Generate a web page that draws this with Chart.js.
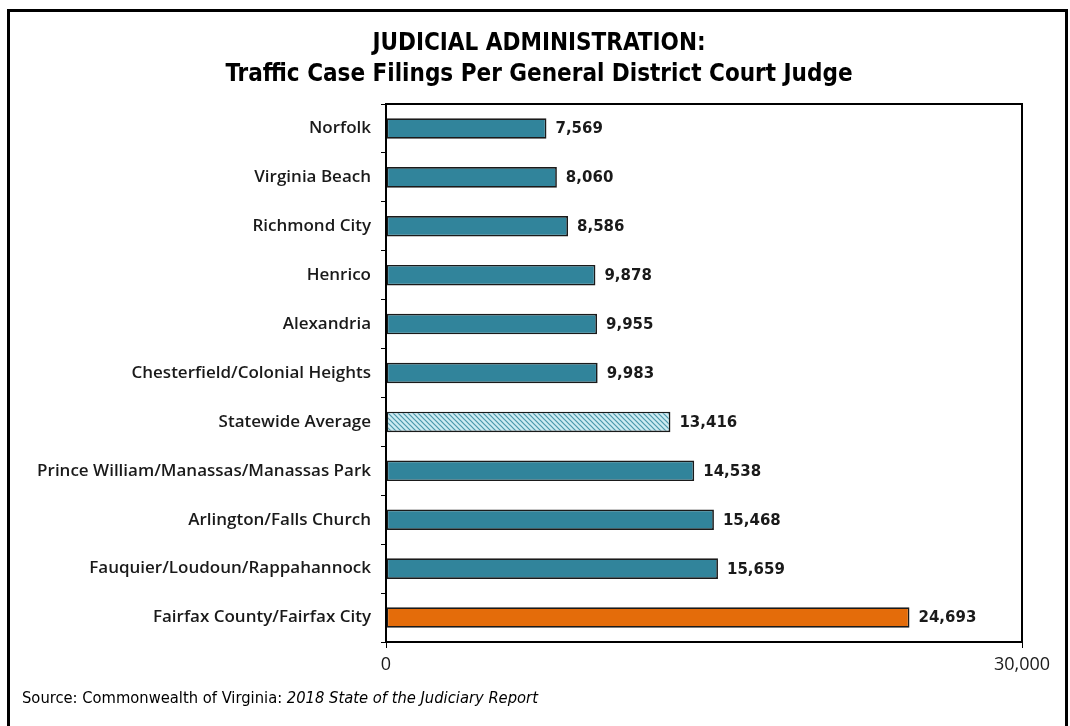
<!DOCTYPE html>
<html>
<head>
<meta charset="utf-8">
<script src="https://cdn.jsdelivr.net/npm/chart.js@4.4.0/dist/chart.umd.min.js"></script>
<style>
  html, body { margin: 0; padding: 0; background: #fff; }
  #wrap { position: relative; width: 1070px; height: 726px; overflow: hidden; }
  #frame { position: absolute; left: 7px; top: 9px; width: 1061px; height: 740px; border: 3px solid #000; box-sizing: border-box; }
  canvas { position: absolute; left: 0; top: 0; }
</style>
</head>
<body>
<div id="wrap">
  <div id="frame"></div>
  <canvas id="chart" width="1070" height="726"></canvas>
</div>
<script>
const categories = [
  'Norfolk',
  'Virginia Beach',
  'Richmond City',
  'Henrico',
  'Alexandria',
  'Chesterfield/Colonial Heights',
  'Statewide Average',
  'Prince William/Manassas/Manassas Park',
  'Arlington/Falls Church',
  'Fauquier/Loudoun/Rappahannock',
  'Fairfax County/Fairfax City'
];
const filings = [7569, 8060, 8586, 9878, 9955, 9983, 13416, 14538, 15468, 15659, 24693];
const titleLines = ['JUDICIAL ADMINISTRATION:', 'Traffic Case Filings Per General District Court Judge'];
const axisMax = 30000;

const teal = '#31849B';
const orange = '#E46C0A';
const condensed = '"Liberation Sans Narrow", "DejaVu Sans Condensed", sans-serif';

// hatched fill for the statewide average bar
function hatch() {
  const c = document.createElement('canvas');
  c.width = 5; c.height = 5;
  const g = c.getContext('2d');
  g.fillStyle = '#cdebf2';
  g.fillRect(0, 0, 5, 5);
  g.strokeStyle = '#4a97ab';
  g.lineWidth = 1.2;
  g.beginPath();
  g.moveTo(-1, -1); g.lineTo(6, 6);
  g.moveTo(-1, 4); g.lineTo(1, 6);
  g.moveTo(4, -1); g.lineTo(6, 1);
  g.stroke();
  return document.getElementById('chart').getContext('2d').createPattern(c, 'repeat');
}

const fills = categories.map(c => {
  if (c === 'Statewide Average') return hatch();
  if (c.startsWith('Fairfax')) return orange;
  return teal;
});

const extras = {
  id: 'extras',
  afterDraw(chart) {
    const { ctx, chartArea: a } = chart;
    ctx.save();
    // box round plot
    ctx.strokeStyle = '#000';
    ctx.lineWidth = 2;
    ctx.strokeRect(a.left, a.top, a.right - a.left, a.bottom - a.top);

    // value labels
    ctx.fillStyle = '#1a1a1a';
    ctx.font = 'bold 15px "DejaVu Sans", sans-serif';
    ctx.textBaseline = 'middle';
    ctx.textAlign = 'left';
    chart.getDatasetMeta(0).data.forEach((bar, i) => {
      ctx.fillText(filings[i].toLocaleString('en-US'), bar.x + 9, bar.y + 1);
    });

    // title
    ctx.textAlign = 'center';
    ctx.textBaseline = 'alphabetic';
    ctx.fillStyle = '#000';
    ctx.font = 'bold 24px ' + condensed;
    ctx.fillText(titleLines[0], 539, 50);
    ctx.fillText(titleLines[1], 539, 81);

    // source
    ctx.textAlign = 'left';
    ctx.font = '16.4px ' + condensed;
    const src = 'Source: Commonwealth of Virginia: ';
    ctx.fillText(src, 22, 703);
    const w = ctx.measureText(src).width;
    ctx.font = 'italic 16.4px ' + condensed;
    ctx.fillText('2018 State of the Judiciary Report', 22 + w, 703);
    ctx.restore();
  }
};

new Chart(document.getElementById('chart'), {
  type: 'bar',
  data: {
    labels: categories,
    datasets: [{
      data: filings,
      backgroundColor: fills,
      borderColor: '#1a1a1a',
      borderWidth: 1.7,
      borderSkipped: false,
      barPercentage: 0.42,
      categoryPercentage: 1
    }]
  },
  options: {
    indexAxis: 'y',
    responsive: false,
    animation: false,
    layout: { padding: { top: 104, right: 48, bottom: 0, left: 0 } },
    plugins: { legend: { display: false }, tooltip: { enabled: false }, title: { display: false } },
    scales: {
      x: {
        min: 0,
        max: axisMax,
        afterFit: s => { s.height = 84; },
        ticks: {
          stepSize: axisMax,
          padding: 6,
          color: '#1a1a1a',
          font: { family: '"Open Sans", sans-serif', size: 18 },
          callback: v => v.toLocaleString('en-US')
        },
        grid: { drawOnChartArea: false, color: '#000', tickLength: 6, lineWidth: 1 },
        border: { color: '#000', width: 2 }
      },
      y: {
        afterFit: s => { s.width = 386; },
        ticks: {
          padding: 10,
          color: '#1a1a1a',
          font: { family: '"Open Sans", sans-serif', size: 17, weight: '600' }
        },
        grid: { drawOnChartArea: false, offset: true, color: '#000', tickLength: 5, lineWidth: 1 },
        border: { color: '#000', width: 2 }
      }
    }
  },
  plugins: [extras]
});
</script>
</body>
</html>
